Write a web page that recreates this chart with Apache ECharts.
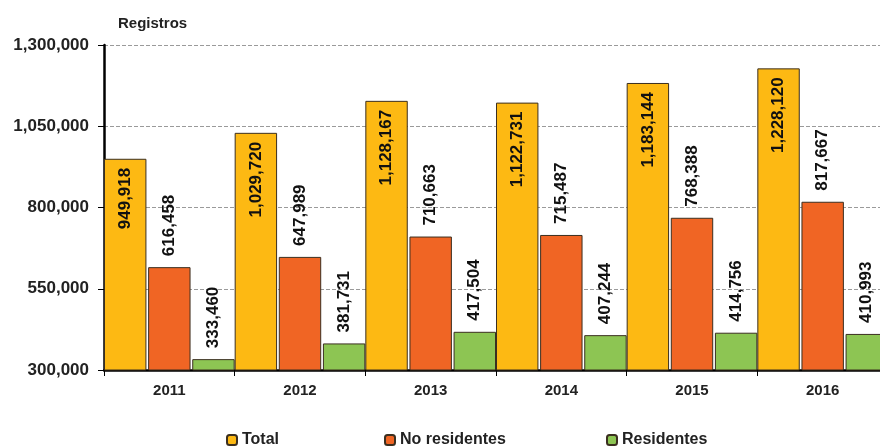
<!DOCTYPE html>
<html><head><meta charset="utf-8">
<script src="https://cdn.jsdelivr.net/npm/echarts@6/dist/echarts.min.js"></script>
<style>html,body{margin:0;padding:0;background:#fff;overflow:hidden;width:880px;height:446px}#c{width:888px;height:446px}</style>
</head><body><div id="c"></div>
<script>
const categories = ['2011','2012','2013','2014','2015','2016'];
const total = [949918, 1029720, 1128167, 1122731, 1183144, 1228120];
const noResidentes = [616458, 647989, 710663, 715487, 768388, 817667];
const residentes = [333460, 381731, 417504, 407244, 414756, 410993];
const yTicks = [300000, 550000, 800000, 1050000, 1300000];
const seriesNames = ['Total', 'No residentes', 'Residentes'];

const fmt = v => v.toLocaleString('en-US');
const FONT = '"Liberation Sans", Arial, sans-serif';
const chart = echarts.init(document.getElementById('c'), null, {renderer: 'canvas'});
const labelBase = {show: true, rotate: 90, fontFamily: FONT, fontWeight: 'bold', fontSize: 17, color: '#111', formatter: p => fmt(p.value)};
const itemBase = {borderColor: '#3b2f20', borderWidth: 1};
const legendLeft = [226, 384, 606];
chart.setOption({
  animation: false,
  title: {text: 'Registros', left: 113, top: 11, textStyle: {fontFamily: FONT, fontWeight: 'bold', fontSize: 15, color: '#222'}},
  grid: {left: 104, right: 0, top: 45, bottom: 76, containLabel: false},
  legend: seriesNames.map((n, i) => ({
    top: 432, left: legendLeft[i], padding: 0, itemWidth: 10, itemHeight: 10,
    textStyle: {fontFamily: FONT, fontWeight: 'bold', fontSize: 16, color: '#222'},
    data: [n]
  })),
  xAxis: {
    type: 'category', data: categories,
    axisLine: {lineStyle: {color: '#000', width: 2.5}},
    axisTick: {show: true, length: 6, lineStyle: {color: '#000', width: 1}},
    axisLabel: {fontFamily: FONT, fontWeight: 'bold', fontSize: 15, color: '#222', margin: 13}
  },
  yAxis: {
    type: 'value', min: yTicks[0], max: yTicks[yTicks.length-1], interval: 250000,
    axisLine: {show: true, lineStyle: {color: '#000', width: 2.5}},
    axisTick: {show: true, length: 6, lineStyle: {color: '#000'}},
    axisLabel: {fontFamily: FONT, fontWeight: 'bold', fontSize: 17, color: '#222', margin: 15, formatter: v => fmt(v)},
    splitLine: {lineStyle: {color: '#9a9a9a', type: 'dashed', width: 1}}
  },
  series: [
    {name: seriesNames[0], type: 'bar', data: total, barGap: '4%', barCategoryGap: '0%',
     itemStyle: Object.assign({color: '#FDB913'}, itemBase),
     label: Object.assign({position: 'insideTop', align: 'right', verticalAlign: 'middle', distance: 9}, labelBase)},
    {name: seriesNames[1], type: 'bar', data: noResidentes,
     itemStyle: Object.assign({color: '#F06524'}, itemBase),
     label: Object.assign({position: 'top', align: 'left', verticalAlign: 'middle', distance: 11}, labelBase)},
    {name: seriesNames[2], type: 'bar', data: residentes,
     itemStyle: Object.assign({color: '#8DC553'}, itemBase),
     label: Object.assign({position: 'top', align: 'left', verticalAlign: 'middle', distance: 11}, labelBase)}
  ]
});
</script></body></html>
